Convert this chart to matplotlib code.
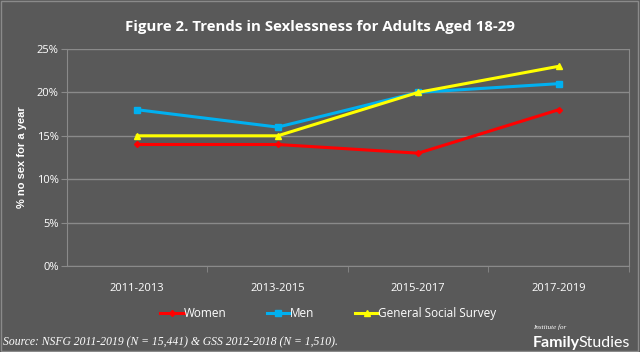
import numpy as np
import matplotlib.pyplot as plt
from matplotlib.ticker import FuncFormatter
from matplotlib.patches import Rectangle

periods = ["2011-2013", "2013-2015", "2015-2017", "2017-2019"]
women = [14, 14, 13, 18]
men = [18, 16, 20, 21]
gss = [15, 15, 20, 23]

bg = "#595959"
grid_c = "#8a8a8a"

fig = plt.figure(figsize=(6.4, 3.52), dpi=100, facecolor=bg)
ax = fig.add_axes([0.1047, 0.244, 0.878, 0.617], facecolor=bg)

x = np.arange(len(periods))
ax.plot(x, women, color="#ff0000", lw=2.2, marker="D", ms=3, label="Women")
ax.plot(x, men, color="#00b0f0", lw=2.2, marker="s", ms=4, label="Men")
ax.plot(x, gss, color="#ffff00", lw=2.2, marker="^", ms=4, label="General Social Survey")

ax.set_xlim(-0.5, 3.5)
ax.set_ylim(0, 25)
ax.set_yticks(np.arange(0, 26, 5))
ax.yaxis.set_major_formatter(FuncFormatter(lambda v, p: f"{v:.0f}%"))
ax.set_xticks(x)
ax.set_xticklabels(periods)
ax.set_xticks([0.5, 1.5, 2.5, 3.5], minor=True)

ax.grid(axis="y", color=grid_c, lw=1)
ax.set_axisbelow(True)
for s in ["left", "bottom", "right"]:
    ax.spines[s].set_color(grid_c)
ax.spines["top"].set_visible(False)

ax.tick_params(axis="both", which="both", colors=grid_c, labelcolor="white",
               labelsize=8, length=4)
ax.tick_params(axis="x", which="major", length=0, pad=12)
ax.tick_params(axis="x", which="minor", length=4)
ax.tick_params(axis="y", length=4, pad=2)
for t in ax.get_xticklabels() + ax.get_yticklabels():
    t.set_fontfamily("Open Sans")

ax.set_ylabel("% no sex for a year", color="white", fontsize=8, fontweight="bold",
              fontfamily="Liberation Sans", labelpad=7)

fig.text(0.5, 0.923, "Figure 2. Trends in Sexlessness for Adults Aged 18-29",
         ha="center", va="center", color="white", fontsize=10.8, fontweight="bold",
         fontfamily="Open Sans")

leg = fig.legend(loc="center", bbox_to_anchor=(0.513, 0.108), ncol=3, frameon=False,
                 fontsize=8.5, handlelength=2.0, handletextpad=0.0, columnspacing=3.4)
for t in leg.get_texts():
    t.set_color("white")
    t.set_fontfamily("Open Sans")

fig.text(0.005, 0.027, "Source: NSFG 2011-2019 (N = 15,441) & GSS 2012-2018 (N = 1,510).",
         color="white", fontsize=8.4, fontstyle="italic", fontfamily="Liberation Serif",
         va="center")

# logo
fig.text(0.833, 0.07, "Institute for", color="white", fontsize=5,
         fontstyle="italic", fontfamily="Liberation Serif", va="center")
fam = fig.text(0.833, 0.025, "Family", color="white", fontsize=11.5, fontweight="bold",
               fontfamily="Lato", va="center")
fig.canvas.draw()
bb = fam.get_window_extent().transformed(fig.transFigure.inverted())
fig.text(bb.x1 - 0.002, 0.025, "Studies", color="white", fontsize=11.5,
         fontfamily="Lato", va="center")

fig.patches.append(Rectangle((0.001, 0.002), 0.996, 0.995, transform=fig.transFigure,
                             fill=False, edgecolor="#8a8a8a", lw=1))

plt.savefig("out.png", dpi=100, facecolor=bg)
